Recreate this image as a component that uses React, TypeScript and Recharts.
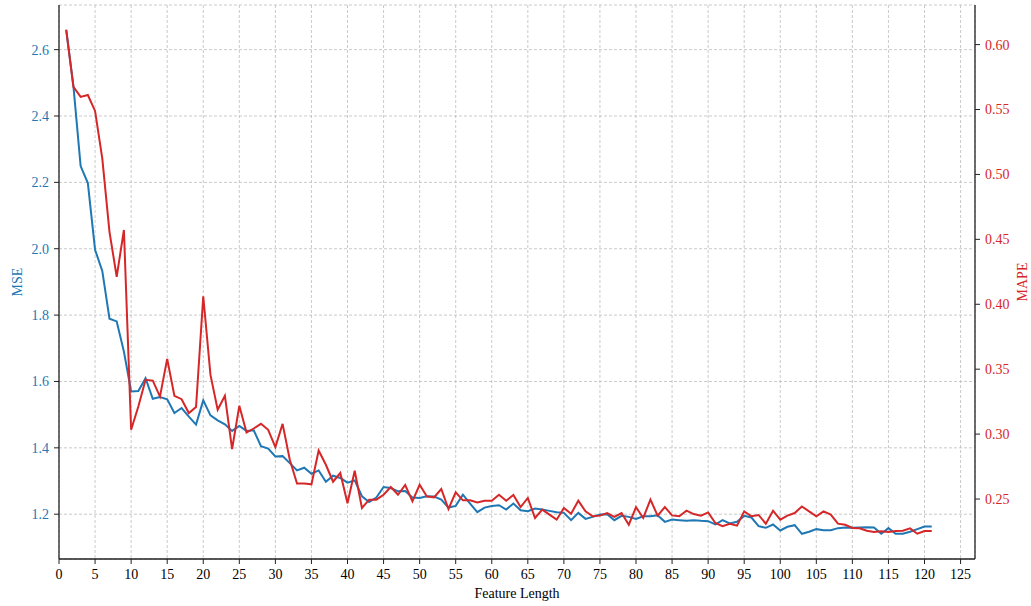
import React from 'react';
import { LineChart, Line, XAxis, YAxis, CartesianGrid, Label } from 'recharts';

const featureLength = [
  1, 2, 3, 4, 5, 6, 7, 8, 9, 10, 11, 12, 13, 14, 15, 16, 17, 18, 19, 20,
  21, 22, 23, 24, 25, 26, 27, 28, 29, 30, 31, 32, 33, 34, 35, 36, 37, 38, 39, 40,
  41, 42, 43, 44, 45, 46, 47, 48, 49, 50, 51, 52, 53, 54, 55, 56, 57, 58, 59, 60,
  61, 62, 63, 64, 65, 66, 67, 68, 69, 70, 71, 72, 73, 74, 75, 76, 77, 78, 79, 80,
  81, 82, 83, 84, 85, 86, 87, 88, 89, 90, 91, 92, 93, 94, 95, 96, 97, 98, 99, 100,
  101, 102, 103, 104, 105, 106, 107, 108, 109, 110, 111, 112, 113, 114, 115, 116, 117, 118, 119, 120,
  121,
];

const mseValues = [
  2.659, 2.49, 2.249, 2.198, 1.997, 1.933, 1.789, 1.781, 1.69, 1.57,
  1.571, 1.61, 1.548, 1.553, 1.546, 1.505, 1.52, 1.494, 1.47, 1.543,
  1.498, 1.483, 1.471, 1.451, 1.466, 1.451, 1.453, 1.405, 1.398, 1.374,
  1.375, 1.354, 1.332, 1.34, 1.322, 1.332, 1.298, 1.316, 1.309, 1.295,
  1.302, 1.254, 1.237, 1.25, 1.282, 1.279, 1.269, 1.27, 1.25, 1.249,
  1.254, 1.253, 1.244, 1.22, 1.225, 1.259, 1.232, 1.206, 1.22, 1.225,
  1.227, 1.214, 1.232, 1.212, 1.209, 1.217, 1.214, 1.21, 1.206, 1.204,
  1.182, 1.204, 1.186, 1.192, 1.199, 1.2, 1.182, 1.195, 1.192, 1.186,
  1.194, 1.194, 1.197, 1.177, 1.184, 1.182, 1.18, 1.182, 1.18, 1.179,
  1.169, 1.182, 1.172, 1.177, 1.195, 1.19, 1.164, 1.159, 1.169, 1.151,
  1.162, 1.167, 1.141, 1.147, 1.155, 1.152, 1.152, 1.158, 1.16, 1.159,
  1.16, 1.161, 1.16, 1.141, 1.158, 1.141, 1.141, 1.147, 1.155, 1.163,
  1.163,
];

const mapeValues = [
  0.6115, 0.5674, 0.5597, 0.5612, 0.5489, 0.5123, 0.4558, 0.4212, 0.4572, 0.3033,
  0.3212, 0.3418, 0.3412, 0.3289, 0.3579, 0.3295, 0.3269, 0.3162, 0.3208, 0.4062,
  0.3456, 0.3187, 0.3295, 0.2885, 0.3218, 0.3012, 0.3043, 0.3079, 0.3033, 0.29,
  0.3079, 0.2802, 0.262, 0.262, 0.2613, 0.2874, 0.2764, 0.2633, 0.27, 0.2467,
  0.2718, 0.2431, 0.2495, 0.2495, 0.2533, 0.2592, 0.2533, 0.2608, 0.2482, 0.261,
  0.252, 0.2513, 0.2577, 0.2423, 0.2551, 0.249, 0.249, 0.2474, 0.2487, 0.2487,
  0.2533, 0.2487, 0.2531, 0.2438, 0.2508, 0.2354, 0.2418, 0.238, 0.2341, 0.2431,
  0.2387, 0.2487, 0.2405, 0.2367, 0.2372, 0.2392, 0.2362, 0.2392, 0.2302, 0.2437,
  0.2354, 0.2495, 0.2372, 0.2438, 0.2374, 0.2367, 0.241, 0.2384, 0.2372, 0.2397,
  0.2315, 0.229, 0.231, 0.2295, 0.2405, 0.2367, 0.2377, 0.231, 0.241, 0.2341,
  0.2372, 0.2392, 0.2443, 0.2405, 0.2367, 0.2405, 0.238, 0.231, 0.2302, 0.2277,
  0.2274, 0.2256, 0.2246, 0.2251, 0.2246, 0.2254, 0.2256, 0.2274, 0.2233, 0.2254,
  0.2254,
];

const xTicks = [0, 5, 10, 15, 20, 25, 30, 35, 40, 45, 50, 55, 60, 65, 70, 75, 80, 85, 90, 95, 100, 105, 110, 115, 120, 125];
const mseTicks = [1.2, 1.4, 1.6, 1.8, 2.0, 2.2, 2.4, 2.6];
const mapeTicks = [0.25, 0.3, 0.35, 0.4, 0.45, 0.5, 0.55, 0.6];

const data = featureLength.map((len, i) => ({ len, mse: mseValues[i], mape: mapeValues[i] }));

const FONT = "'Liberation Serif', 'Times New Roman', serif";
const BLUE = '#1f77b4';
const RED = '#d62728';
const SPINE = '#222';

const renderMseLabel = () => (
  <text x={22} y={282} transform="rotate(-90, 22, 282)" textAnchor="middle" fill={BLUE} fontSize={14} fontFamily={FONT}>
    MSE
  </text>
);

const renderMapeLabel = () => (
  <text x={1027} y={282} transform="rotate(-90, 1027, 282)" textAnchor="middle" fill={RED} fontSize={14} fontFamily={FONT}>
    MAPE
  </text>
);

const renderXLabel = () => (
  <text x={517} y={598} textAnchor="middle" fill="#000" fontSize={14} fontFamily={FONT}>
    Feature Length
  </text>
);

export default function App() {
  return (
    <div style={{ position: 'absolute', left: 0, top: 0, width: 1031, height: 606, background: '#fff', fontFamily: FONT }}>
      <style>{`.recharts-cartesian-axis-tick-value, .recharts-text { font-family: ${FONT}; }`}</style>
      <LineChart width={1031} height={606} data={data} margin={{ top: 5, right: 0, bottom: 0, left: 0 }} style={{ fontFamily: FONT }}>
        <CartesianGrid yAxisId="mse" stroke="#bdbdbd" strokeDasharray="3 2" strokeWidth={0.8} />
        <XAxis
          dataKey="len"
          type="number"
          domain={[0, 127]}
          allowDataOverflow
          ticks={xTicks}
          interval={0}
          height={47}
          axisLine={{ stroke: SPINE, strokeWidth: 1.3 }}
          tickLine={{ stroke: SPINE }}
          tickSize={5}
          tickMargin={5}
          tick={{ fill: '#000', fontSize: 14, fontFamily: FONT }}
        >
          <Label content={renderXLabel} />
        </XAxis>
        <XAxis
          xAxisId="top"
          orientation="top"
          type="number"
          domain={[0, 127]}
          height={0}
          tick={false}
          tickLine={false}
          axisLine={{ stroke: SPINE, strokeWidth: 1.3 }}
        />
        <YAxis
          yAxisId="mse"
          type="number"
          domain={[1.065, 2.7345]}
          allowDataOverflow
          ticks={mseTicks}
          interval={0}
          width={59}
          axisLine={{ stroke: SPINE, strokeWidth: 1.3 }}
          tickLine={{ stroke: SPINE }}
          tickSize={5}
          tickMargin={5}
          tickFormatter={(v: number) => v.toFixed(1)}
          tick={{ fill: BLUE, fontSize: 14, fontFamily: FONT }}
        >
          <Label content={renderMseLabel} />
        </YAxis>
        <YAxis
          yAxisId="mape"
          orientation="right"
          type="number"
          domain={[0.2038, 0.6305]}
          allowDataOverflow
          ticks={mapeTicks}
          interval={0}
          width={56}
          axisLine={{ stroke: SPINE, strokeWidth: 1.3 }}
          tickLine={{ stroke: SPINE }}
          tickSize={5}
          tickMargin={5}
          tickFormatter={(v: number) => v.toFixed(2)}
          tick={{ fill: RED, fontSize: 14, fontFamily: FONT }}
        >
          <Label content={renderMapeLabel} />
        </YAxis>
        <Line
          yAxisId="mse"
          type="linear"
          dataKey="mse"
          stroke={BLUE}
          strokeWidth={2}
          dot={false}
          activeDot={false}
          isAnimationActive={false}
        />
        <Line
          yAxisId="mape"
          type="linear"
          dataKey="mape"
          stroke={RED}
          strokeWidth={2}
          dot={false}
          activeDot={false}
          isAnimationActive={false}
        />
      </LineChart>
    </div>
  );
}
